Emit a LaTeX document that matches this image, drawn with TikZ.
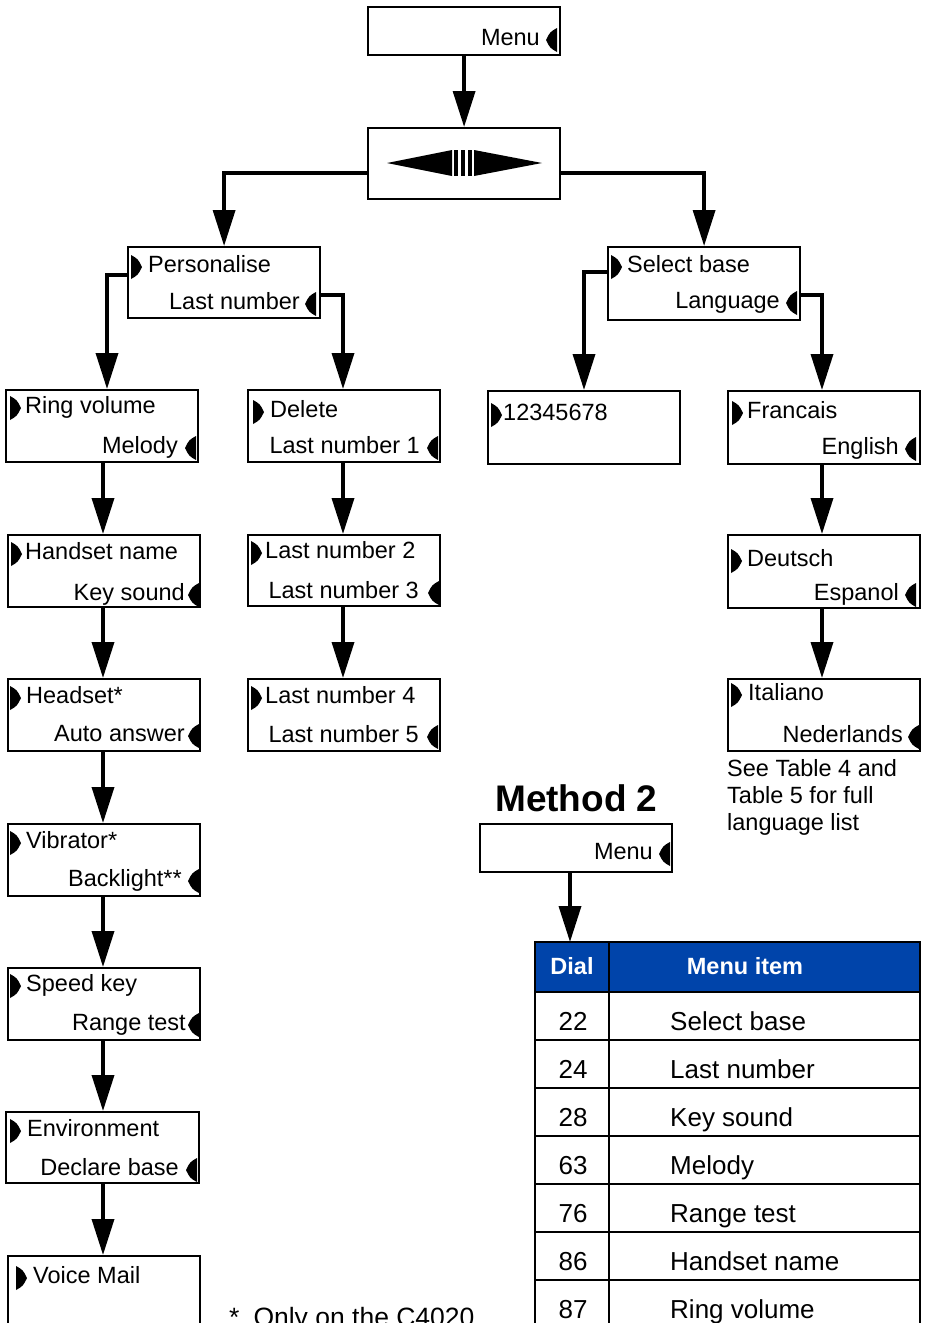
\documentclass[tikz,border=0pt]{standalone}
\usepackage{fontspec}
\setmainfont{Liberation Sans}
\usetikzlibrary{arrows.meta}
\definecolor{hdrblue}{RGB}{0,68,170}
\tikzset{
  box/.style={draw, line width=2.2pt, inner sep=0pt, anchor=north west},
  conn/.style={line width=3.5pt, -{Triangle[length=36pt,width=22pt]}},
  txt/.style={inner sep=0pt, font=\fontsize{23.5}{28}\selectfont},
  lt/.style={txt, anchor=base west},
  rt/.style={txt, anchor=base east},
  tbl/.style={line width=2pt},
  cell/.style={inner sep=0pt, font=\fontsize{26}{30}\selectfont},
  hdr/.style={inner sep=0pt, text=white, font=\fontsize{23.5}{28}\selectfont\bfseries, anchor=base},
}
\newcommand\rptr[2]{\fill (#1,#2-12) .. controls (#1+7,#2-8) .. (#1+11,#2) .. controls (#1+7,#2+8) .. (#1,#2+12) -- cycle;}
\newcommand\lptr[2]{\fill (#1+11,#2-12) .. controls (#1+4,#2-8) .. (#1,#2) .. controls (#1+4,#2+8) .. (#1+11,#2+12) -- cycle;}
\begin{document}
\begin{tikzpicture}[x=1pt,y=-1pt]
\useasboundingbox (0,0) rectangle (925,1323);

% ---------- boxes ----------
\node[box, minimum width=192pt, minimum height=48pt] (menu1) at (367,6) {};
\node[box, minimum width=192pt, minimum height=71pt] (nav) at (367,127) {};
\node[box, minimum width=192pt, minimum height=71pt] (pers) at (127,246) {};
\node[box, minimum width=192pt, minimum height=73pt] (sel) at (607,246) {};
\node[box, minimum width=192pt, minimum height=72pt] (ring) at (5,389) {};
\node[box, minimum width=192pt, minimum height=72pt] (del) at (247,389) {};
\node[box, minimum width=192pt, minimum height=73pt] (num) at (487,390) {};
\node[box, minimum width=192pt, minimum height=73pt] (fra) at (727,390) {};
\node[box, minimum width=192pt, minimum height=72pt] (hand) at (7,534) {};
\node[box, minimum width=192pt, minimum height=71pt] (ln2) at (247,534) {};
\node[box, minimum width=192pt, minimum height=73pt] (deu) at (727,534) {};
\node[box, minimum width=192pt, minimum height=72pt] (head) at (7,678) {};
\node[box, minimum width=192pt, minimum height=72pt] (ln4) at (247,678) {};
\node[box, minimum width=192pt, minimum height=72pt] (ita) at (727,678) {};
\node[box, minimum width=192pt, minimum height=72pt] (vib) at (7,823) {};
\node[box, minimum width=192pt, minimum height=72pt] (speed) at (7,967) {};
\node[box, minimum width=193pt, minimum height=71pt] (env) at (5,1111) {};
\node[box, minimum width=192pt, minimum height=90pt] (voice) at (7,1255) {};
\node[box, minimum width=192pt, minimum height=48pt] (menu2) at (479,823) {};

% ---------- navigation symbol ----------
\fill (387,163) .. controls (420,157) .. (452,150) -- (452,176) .. controls (420,169) .. (387,163) -- cycle;
\fill (454,150) rectangle (457.5,176);
\fill (461,150) rectangle (464.5,176);
\fill (468,150) rectangle (471.5,176);
\fill (542,163) .. controls (508,157) .. (474,150) -- (474,176) .. controls (508,169) .. (542,163) -- cycle;

% ---------- texts ----------
\node[rt] (menu1t) at (540,45) {Menu}; \lptr{546}{40}

\node[lt] (pers1) at (148,272) {Personalise}; \rptr{131}{267}
\node[rt] (pers2) at (300,309) {Last number}; \lptr{305}{304}

\node[lt] (sel1) at (627,272) {Select base}; \rptr{611}{267}
\node[rt] (sel2) at (780,308) {Language}; \lptr{786}{303}

\node[lt] (ring1) at (25,413) {Ring volume}; \rptr{10}{408}
\node[rt] (ring2) at (178,453) {Melody}; \lptr{185}{448}

\node[lt] (del1) at (270,417) {Delete}; \rptr{253}{412}
\node[rt] (del2) at (420,453) {Last number 1}; \lptr{427}{448}

\node[lt] (num1) at (503,420) {12345678}; \rptr{491}{415}

\node[lt] (fra1) at (747,418) {Francais}; \rptr{732}{413}
\node[rt] (fra2) at (899,454) {English}; \lptr{905}{449}

\node[lt] (hand1) at (25,559) {Handset name}; \rptr{11}{554}
\node[rt] (hand2) at (185,600) {Key sound}; \lptr{188}{595}

\node[lt] (ln21) at (265,558) {Last number 2}; \rptr{251}{553}
\node[rt] (ln22) at (419,598) {Last number 3}; \lptr{428}{593}

\node[lt] (deu1) at (747,566) {Deutsch}; \rptr{731}{561}
\node[rt] (deu2) at (899,600) {Espanol}; \lptr{905}{595}

\node[lt] (head1) at (26,703) {Headset*}; \rptr{10}{698}
\node[rt] (head2) at (185,741) {Auto answer}; \lptr{188}{736}

\node[lt] (ln41) at (265,703) {Last number 4}; \rptr{251}{698}
\node[rt] (ln42) at (419,742) {Last number 5}; \lptr{427}{737}

\node[lt] (ita1) at (748,700) {Italiano}; \rptr{731}{695}
\node[rt] (ita2) at (903,742) {Nederlands}; \lptr{908}{737}

\node[lt] (vib1) at (26,848) {Vibrator*}; \rptr{10}{843}
\node[rt] (vib2) at (182,886) {Backlight**}; \lptr{188}{881}

\node[lt] (speed1) at (26,991) {Speed key}; \rptr{10}{986}
\node[rt] (speed2) at (186,1030) {Range test}; \lptr{188}{1025}

\node[lt] (env1) at (27,1136) {Environment}; \rptr{10}{1131}
\node[rt] (env2) at (179,1175) {Declare base}; \lptr{186}{1170}

\node[lt] (voice1) at (33,1283) {Voice Mail}; \rptr{16}{1278}

\node[rt] (menu2t) at (653,859) {Menu}; \lptr{659}{854}

\node[lt] (note1) at (727,776) {See Table 4 and};
\node[lt] (note2) at (727,803) {Table 5 for full};
\node[lt] (note3) at (727,830) {language list};

\node[inner sep=0pt, anchor=base west, font=\fontsize{37}{40}\selectfont\bfseries] (meth) at (495,811) {Method 2};

\node[inner sep=0pt, anchor=base west, font=\fontsize{26.5}{30}\selectfont] (foot) at (229,1326) {*\hspace{14pt}Only on the C4020};

% ---------- connectors ----------
\draw[conn] (menu1.south) -- (nav.north);
\draw[conn] (nav.west |- 0,173) -| (pers.north);
\draw[conn] (nav.east |- 0,173) -| (sel.north);
\draw[conn] (pers.west |- 0,275) -| (ring.north -| 107,0);
\draw[conn] (pers.east |- 0,295) -| (del.north -| 343,0);
\draw[conn] (sel.west |- 0,272) -| (num.north -| 584,0);
\draw[conn] (sel.east |- 0,295) -| (fra.north -| 822,0);
\draw[conn] (ring.south -| 103,0) -- (hand.north -| 103,0);
\draw[conn] (hand.south -| 103,0) -- (head.north -| 103,0);
\draw[conn] (head.south -| 103,0) -- (vib.north -| 103,0);
\draw[conn] (vib.south -| 103,0) -- (speed.north -| 103,0);
\draw[conn] (speed.south -| 103,0) -- (env.north -| 103,0);
\draw[conn] (env.south -| 103,0) -- (voice.north -| 103,0);
\draw[conn] (del.south -| 343,0) -- (ln2.north -| 343,0);
\draw[conn] (ln2.south -| 343,0) -- (ln4.north -| 343,0);
\draw[conn] (fra.south -| 822,0) -- (deu.north -| 822,0);
\draw[conn] (deu.south -| 822,0) -- (ita.north -| 822,0);

% ---------- table ----------
\fill[hdrblue] (535,942) rectangle (920,992);
\draw[tbl] (535,1345) -- (535,942) -- (920,942) -- (920,1345);
\draw[tbl] (609,942) -- (609,1345);
\foreach \yy in {992,1040,1088,1136,1184,1232,1280} {\draw[tbl] (535,\yy) -- (920,\yy);}
\node[box, draw=none, minimum width=385pt, minimum height=50pt] (table) at (535,942) {};
\draw[conn] (menu2.south -| 570,0) -- (table.north -| 570,0);

\node[hdr] (hdial) at (572,974) {Dial};
\node[hdr] (hitem) at (745,974) {Menu item};

\foreach \n/\d/\it [count=\i] in {r1/22/Select base, r2/24/Last number, r3/28/Key sound, r4/63/Melody, r5/76/Range test, r6/86/Handset name, r7/87/Ring volume} {
  \node[cell, anchor=base] (\n d) at (573,{1030+48*(\i-1)}) {\d};
  \node[cell, anchor=base west] (\n i) at (670,{1030+48*(\i-1)}) {\it};
}
\end{tikzpicture}
\end{document}
